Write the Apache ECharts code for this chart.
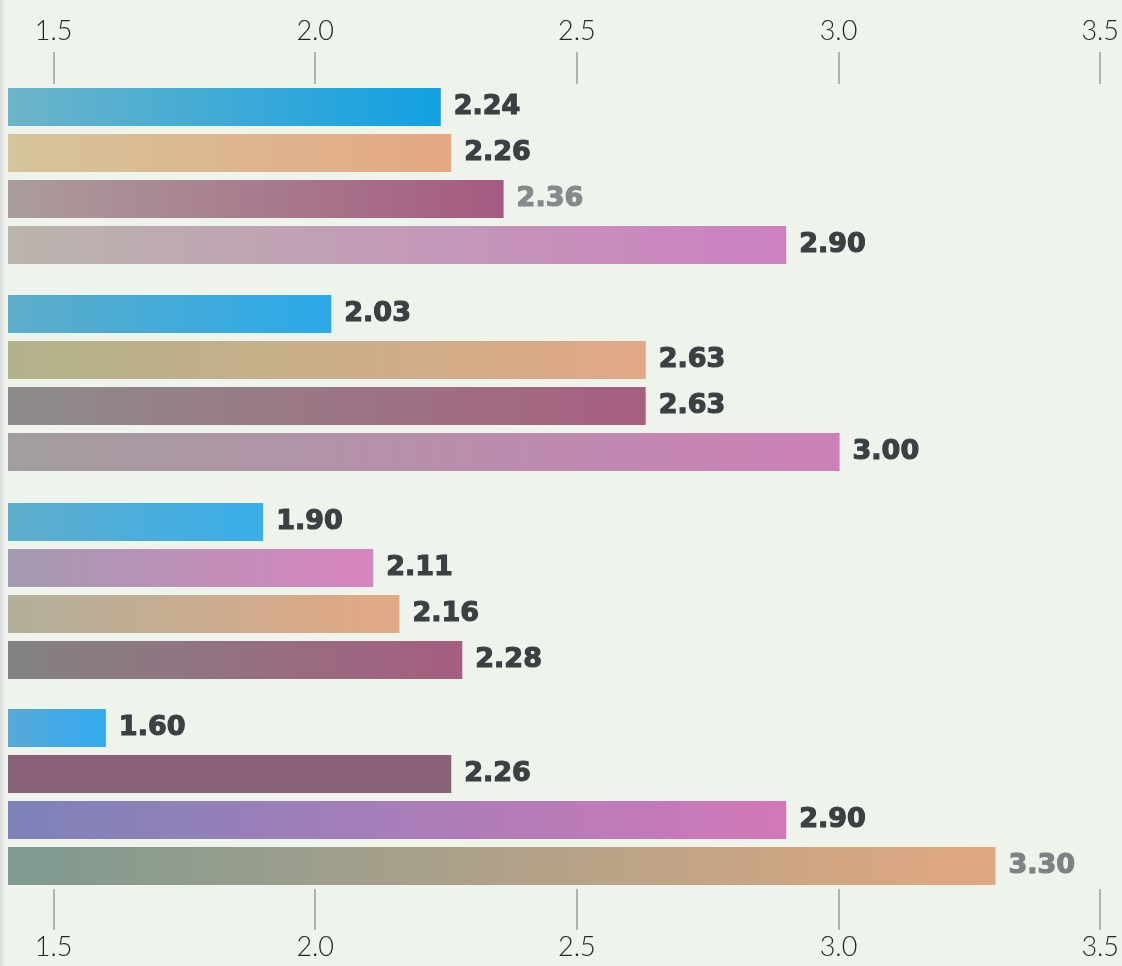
<!DOCTYPE html>
<html>
<head>
<meta charset="utf-8">
<script src="https://cdn.jsdelivr.net/npm/echarts@6/dist/echarts.min.js"></script>
<style>
  html, body { margin: 0; padding: 0; background: #eef3eb; }
  #chart { width: 1122px; height: 966px; }
</style>
</head>
<body>
<div id="chart"></div>
<script>
// Axis ticks shown at top and bottom
const tickValues = [1.5, 2.0, 2.5, 3.0, 3.5];
const tickLabels = ['1.5', '2.0', '2.5', '3.0', '3.5'];

// Four groups of four bars, top to bottom
const group1Values = [2.24, 2.26, 2.36, 2.90];
const group2Values = [2.03, 2.63, 2.63, 3.00];
const group3Values = [1.90, 2.11, 2.16, 2.28];
const group4Values = [1.60, 2.26, 2.90, 3.30];

// Gradient stops (left colour, right colour) for each bar
const group1Colors = [['#6db4c9', '#12a0e2'], ['#d6c49c', '#e4a882'], ['#ab9d9c', '#a65a80'], ['#bab5ad', '#cc80c2']];
const group2Colors = [['#5eadc9', '#2aa9ea'], ['#b2b38b', '#e2a886'], ['#8e8c8a', '#a85f80'], ['#a29e9e', '#cd80b8']];
const group3Colors = [['#5eadcc', '#3aaeea'], ['#a39bb0', '#d984c0'], ['#b2af9a', '#e4a884'], ['#828282', '#a65e80']];
const group4Colors = [['#57a9d8', '#35aaf2'], ['#8a6278', '#8a6278'], ['#7d82b9', '#d278b8'], ['#7e9a91', '#e2a880']];

// Value label colours
const group1LabelColors = ['#3b4043', '#3b4043', '#858a8b', '#3b4043'];
const group2LabelColors = ['#3b4043', '#3b4043', '#3b4043', '#3b4043'];
const group3LabelColors = ['#3b4043', '#3b4043', '#3b4043', '#3b4043'];
const group4LabelColors = ['#3b4043', '#3b4043', '#3b4043', '#7d8283'];

const rowNames = ['a', 'b', 'c', 'd'];

const groups = [
  { values: group1Values, colors: group1Colors, labels: group1LabelColors },
  { values: group2Values, colors: group2Colors, labels: group2LabelColors },
  { values: group3Values, colors: group3Colors, labels: group3LabelColors },
  { values: group4Values, colors: group4Colors, labels: group4LabelColors }
];

const gridTops = [84, 291, 499, 705];
const gridHeight = 184;
const xMin = 1.413;
const xMax = 3.539;

const axisFont = { fontFamily: 'Lato', fontWeight: 300, fontSize: 27, color: '#25282b' };

const grids = gridTops.map(t => ({ left: 8, right: 0, top: t, height: gridHeight }));

const xAxes = groups.map((g, i) => {
  const isTop = i === 0;
  const isBottom = i === groups.length - 1;
  const shown = isTop || isBottom;
  return {
    type: 'value',
    gridIndex: i,
    min: xMin,
    max: xMax,
    position: isTop ? 'top' : 'bottom',
    axisLine: { show: false },
    splitLine: { show: false },
    axisTick: {
      show: shown,
      length: isTop ? 32 : 41,
      customValues: tickValues,
      lineStyle: { color: '#9a9d9c', width: 1.5 }
    },
    axisLabel: {
      show: shown,
      customValues: tickValues,
      margin: isTop ? 39 : 45,
      formatter: v => tickLabels[tickValues.indexOf(Math.round(v * 10) / 10)] || '',
      ...axisFont
    }
  };
});

const yAxes = groups.map((g, i) => ({
  type: 'category',
  gridIndex: i,
  data: rowNames,
  inverse: true,
  show: false
}));

const series = groups.map((g, i) => ({
  type: 'bar',
  xAxisIndex: i,
  yAxisIndex: i,
  barWidth: 38,
  animation: false,
  data: g.values.map((v, j) => ({
    value: v,
    itemStyle: {
      color: new echarts.graphic.LinearGradient(0, 0, 1, 0, [
        { offset: 0, color: g.colors[j][0] },
        { offset: 1, color: g.colors[j][1] }
      ])
    },
    label: { color: g.labels[j], textBorderColor: g.labels[j] }
  })),
  label: {
    show: true,
    position: 'right',
    distance: 13,
    formatter: p => p.value.toFixed(2),
    fontFamily: 'DejaVu Sans',
    fontWeight: 'bold',
    fontSize: 27,
    textBorderWidth: 1.2
  }
}));

const chart = echarts.init(document.getElementById('chart'), null, { renderer: 'canvas' });
chart.setOption({
  backgroundColor: '#eef3eb',
  animation: false,
  grid: grids,
  xAxis: xAxes,
  yAxis: yAxes,
  series: series,
  graphic: [{
    type: 'rect',
    left: 0,
    top: 0,
    shape: { width: 7, height: 966 },
    style: {
      fill: new echarts.graphic.LinearGradient(0, 0, 1, 0, [
        { offset: 0, color: '#d9dcda' },
        { offset: 1, color: '#f3f6f2' }
      ])
    },
    silent: true
  }]
});
</script>
</body>
</html>
